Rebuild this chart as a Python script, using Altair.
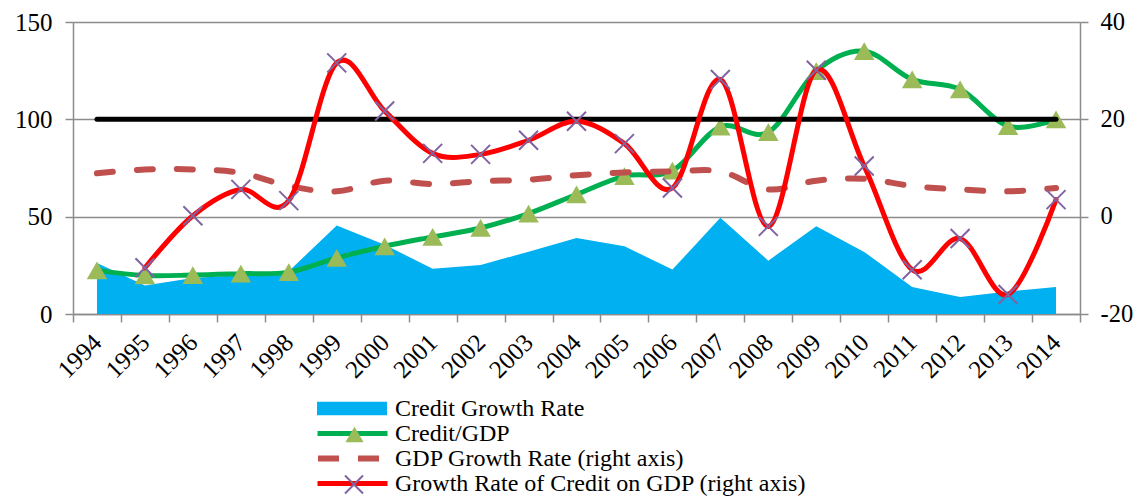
import altair as alt
import pandas as pd

years = [str(y) for y in range(1994, 2015)]
credit_growth = [26.2, 14.7, 18.5, 20.0, 22.0, 45.4, 35.6, 23.2, 25.2, 32.0, 39.1,
                 34.8, 22.8, 49.4, 27.4, 45.1, 31.9, 13.9, 8.7, 11.6, 13.9]
credit_gdp = [22.4, 19.8, 20.0, 20.7, 21.5, 28.8, 34.8, 39.6, 44.2, 51.6, 61.4,
              70.8, 73.6, 96.2, 93.4, 124.8, 135.0, 120.5, 115.4, 96.5, 100.0]
threshold = [100, 100, 100, 100, 100, 100, 100, 100, 100, 100, 100,
             100, 100, 100, 100, 100, 100, 100, 100, 100, 100]
gdp_growth = [8.9, 9.7, 9.7, 9.0, 6.3, 5.2, 7.4, 6.7, 7.3, 7.6, 8.5,
              9.1, 9.3, 9.3, 5.6, 7.4, 7.8, 6.3, 5.6, 5.2, 5.9]
credit_on_gdp_years = years[1:]
credit_on_gdp = [-10.5, 0.2, 5.6, 3.3, 31.6, 21.7, 13.0, 12.8, 15.7, 19.6,
                 15.0, 5.9, 28.2, -2.0, 30.1, 10.4, -10.9, -4.5, -16.0, 3.5]

names = ["Credit Growth Rate", "Credit/GDP", "GDP Growth Rate (right axis)",
         "Growth Rate of Credit on GDP (right axis)"]
marker_names = ["Credit/GDP markers", "Credit on GDP markers"]

def frame(xs, vals, series):
    return pd.DataFrame({"year": xs, "value": vals, "series": series})

df_area = frame(years, credit_growth, names[0])
df_green = frame(years, credit_gdp, names[1])
df_tri = frame(years, credit_gdp, marker_names[0])
df_black = frame(years, threshold, "threshold")
df_dash = frame(years, gdp_growth, names[2])
df_red = frame(credit_on_gdp_years, credit_on_gdp, names[3])
df_xm = frame(credit_on_gdp_years, credit_on_gdp, marker_names[1])

FONT = "Liberation Serif"
GRAY = "#8c8c8c"

x_axis = alt.Axis(tickBand="extent", labelAngle=-45, labelAlign="right",
                  labelBaseline="middle", labelPadding=16, labelFont=FONT,
                  labelFontSize=25, labelColor="black", domainColor=GRAY,
                  domainWidth=1.5, tickColor=GRAY, tickWidth=1.5, tickSize=8,
                  grid=False, title=None)
x_enc = alt.X("year:O", sort=years,
              scale=alt.Scale(type="band", domain=years, paddingInner=0, paddingOuter=0),
              bandPosition=0.5, axis=x_axis)

left_axis = alt.Axis(values=[0, 50, 100, 150], orient="left", grid=True,
                     gridColor=GRAY, gridWidth=1.5, domainColor=GRAY, domainWidth=1.5,
                     tickColor=GRAY, tickWidth=1.5, tickSize=8, labelFont=FONT,
                     labelFontSize=25, labelColor="black", labelPadding=13, title=None)
right_axis = alt.Axis(values=[-20, 0, 20, 40], orient="right", grid=False,
                      domainColor=GRAY, domainWidth=1.5, tickColor=GRAY, tickWidth=1.5,
                      tickSize=8, labelFont=FONT, labelFontSize=24.5, labelColor="black",
                      labelPadding=12, labelExpr="replace(datum.label, '\u2212', '-')",
                      title=None)
y_left = alt.Y("value:Q", scale=alt.Scale(domain=[0, 150], nice=False, zero=False), axis=left_axis)
y_right = alt.Y("value:Q", scale=alt.Scale(domain=[-20, 40], nice=False, zero=False), axis=right_axis)

OX, OY = 73, 22  # plot origin in page coordinates
ROWS = [408.5, 433.5, 458.5, 483.5]
LFS = 24

def legend(px, py, **kw):
    base = dict(orient="none", legendX=px - OX, legendY=py - OY, padding=0, title=None,
                labelFont=FONT, labelFontSize=LFS, labelColor="black", labelLimit=1000)
    base.update(kw)
    return alt.Legend(**base)

def color(series, col, leg):
    return alt.Color("series:N", scale=alt.Scale(domain=[series], range=[col]), legend=leg)

LINE = "M-1,0H1"
CROSS = "M-1,-1L1,1M-1,1L1,-1"

area = alt.Chart(df_area).mark_area(interpolate="linear", opacity=1).encode(
    x=x_enc, y=y_left,
    color=color(names[0], "#00B0F0",
                legend(317, ROWS[0] - 35, symbolType="M-1,-0.19H1V0.19H-1Z", symbolSize=4900,
                       symbolStrokeWidth=0, symbolOpacity=1, labelOffset=8)))

green = alt.Chart(df_green).mark_line(interpolate="cardinal", strokeWidth=5, strokeCap="round").encode(
    x=x_enc, y=y_left,
    color=color(names[1], "#00B050",
                legend(315, ROWS[1] - 37.5, symbolType=LINE, symbolSize=4900,
                       symbolStrokeWidth=5, labelOffset=5)))

tri = alt.Chart(df_tri).mark_point(shape="triangle-up", filled=True, size=420, opacity=1).encode(
    x=x_enc, y=y_left,
    color=color(marker_names[0], "#9BBB59",
                legend(352 - 9.5, ROWS[1] - 11, symbolType="triangle-up", symbolSize=330,
                       symbolStrokeWidth=0, symbolOpacity=1, labelExpr="''")))

black = alt.Chart(df_black).mark_line(color="black", strokeWidth=5, strokeCap="round").encode(
    x=x_enc, y=y_left)

dash = alt.Chart(df_dash).mark_line(interpolate="cardinal", strokeWidth=6, strokeDash=[16, 24],
                                    strokeCap="round").encode(
    x=x_enc, y=y_right,
    color=color(names[2], "#C0504D",
                legend(315, ROWS[2] - 38, symbolType=LINE, symbolSize=4900,
                       symbolStrokeWidth=6, symbolDash=[21, 19], labelOffset=4)))

red = alt.Chart(df_red).mark_line(interpolate="cardinal", strokeWidth=5, strokeCap="round").encode(
    x=x_enc, y=y_right,
    color=color(names[3], "#FF0000",
                legend(315, ROWS[3] - 37.5, symbolType=LINE, symbolSize=4900,
                       symbolStrokeWidth=5, labelOffset=5)))

xm = alt.Chart(df_xm).mark_point(shape=CROSS, filled=False, strokeWidth=2,
                                 size=361, opacity=1).encode(
    x=x_enc, y=y_right,
    color=color(marker_names[1], "#8064A2",
                legend(352 - 10, ROWS[3] - 11, symbolType=CROSS, symbolSize=324,
                       symbolStrokeWidth=2, symbolOpacity=1, labelExpr="''")))

left = alt.layer(area, green, tri, black).resolve_scale(color="independent")
right = alt.layer(dash, red, xm).resolve_scale(color="independent")

chart = alt.layer(left, right).resolve_scale(y="independent", color="independent").properties(
    width=1007, height=292,
    autosize=alt.AutoSizeParams(type="none"),
    padding={"left": 65, "top": 14, "right": 53, "bottom": 182},
    background="white",
).configure_view(strokeWidth=0)

chart.save("out.html", embed_options={"renderer": "svg", "actions": False})
